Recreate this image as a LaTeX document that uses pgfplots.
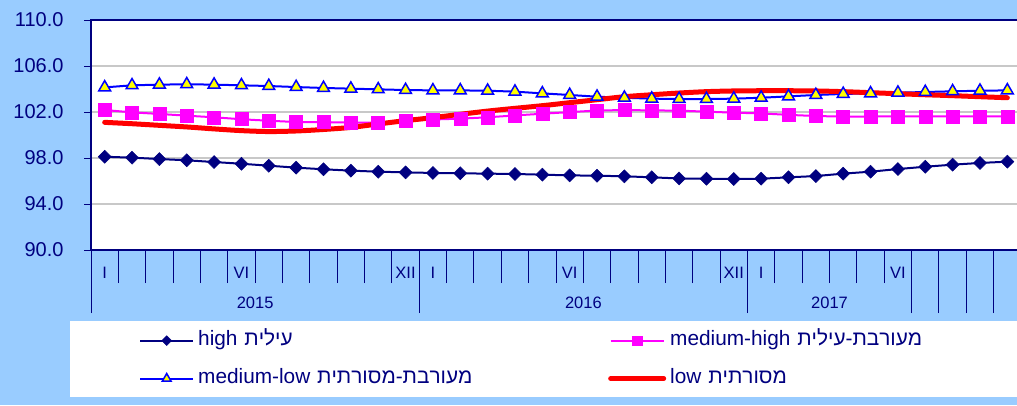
\documentclass[border=0pt]{standalone}
\usepackage{pgfplots}
\pgfplotsset{compat=1.18}
\usepackage{fontspec}
\setmainfont{Liberation Sans}
\TeXXeTstate=1
\definecolor{bg}{HTML}{99CCFF}
\definecolor{navy}{HTML}{000080}
\definecolor{mag}{HTML}{FF00FF}
\definecolor{gridc}{HTML}{C8C8C8}
\definecolor{yel}{HTML}{FFFF00}
\definecolor{blu}{HTML}{0000FF}
\definecolor{red0}{HTML}{FF0000}
\tikzset{
  mlab/.style={font=\fontsize{16.5}{18}\selectfont, text=navy, yshift=-23pt},
  ylab/.style={font=\fontsize{16.5}{18}\selectfont, text=navy, yshift=-53pt}}
\begin{document}
\begin{tikzpicture}
\useasboundingbox (0,0) rectangle (1017pt,405pt);
\clip (0,0) rectangle (1017pt,405pt);
\fill[bg] (0,0) rectangle (1017pt,405pt);
\fill[white] (70pt,8pt) rectangle (1030pt,84pt);
\begin{axis}[
  at={(91pt,155pt)}, anchor=south west,
  scale only axis, width=930pt, height=230pt,
  xmin=-0.5, xmax=33.5, ymin=90, ymax=110,
  clip=false,
  axis background/.style={fill=white},
  axis line style={navy, line width=2pt},
  tick align=outside,
  xtick pos=left, ytick pos=left,
  xtick={-0.5}, xticklabels={},
  minor xtick={0.5,1.5,...,33.5},
  minor tick length=33pt,
  extra x ticks={-0.5,11.5,23.5,29.5,30.5,31.5,32.5,33.5},
  extra x tick labels={},
  extra x tick style={major tick length=63pt},
  major tick length=7pt,
  tick style={navy, line width=1pt},
  ytick={90,94,...,110},
  ymajorgrids,
  major grid style={gridc, line width=1.3pt},
  yticklabel style={font=\fontsize{20}{24}\selectfont, text=navy, xshift=-17pt, /pgf/number format/.cd, fixed, fixed zerofill, precision=1, assume math mode=true},
  legend columns=2,
  legend style={at={(0.0516,-0.341)}, anchor=north west, draw=none, fill=none, inner sep=0pt,
     font=\fontsize{20.8}{24}\selectfont, text=navy, column sep=0pt, row sep=14pt,
     nodes={inner xsep=4pt, inner ysep=2pt, text width=406pt, align=left, text height=15pt, text depth=5pt}},
  legend cell align=left,
  legend image code/.code={\draw[mark repeat=2,mark phase=2,#1, every mark/.append style={scale=0.75}] plot coordinates {(0pt,0pt) (26.5pt,0pt) (53pt,0pt)};},
]
\addplot[navy, line width=2pt, mark=square*, mark size=4.6pt, mark options={rotate=45, fill=navy, draw=navy, line width=0.5pt}] coordinates {
(0,98.11) (1,98.03) (2,97.91) (3,97.80) (4,97.65) (5,97.50) (6,97.33) (7,97.16) (8,97.02) (9,96.90)
(10,96.81) (11,96.75) (12,96.70) (13,96.67) (14,96.64) (15,96.61) (16,96.55) (17,96.49) (18,96.46) (19,96.41)
(20,96.32) (21,96.22) (22,96.20) (23,96.17) (24,96.20) (25,96.32) (26,96.43) (27,96.64) (28,96.81) (29,97.04)
(30,97.24) (31,97.42) (32,97.57) (33,97.68)};
\addlegendentry{high \beginR עילית\endR}
\addplot[mag, line width=2pt, mark=square*, mark size=6.5pt, mark options={fill=mag, draw=mag, line width=0.5pt}] coordinates {
(0,102.17) (1,101.97) (2,101.83) (3,101.68) (4,101.54) (5,101.37) (6,101.24) (7,101.13) (8,101.12) (9,101.08)
(10,101.08) (11,101.22) (12,101.35) (13,101.42) (14,101.54) (15,101.70) (16,101.85) (17,101.99) (18,102.13) (19,102.17)
(20,102.14) (21,102.12) (22,102.03) (23,101.94) (24,101.88) (25,101.75) (26,101.65) (27,101.60) (28,101.61) (29,101.61)
(30,101.62) (31,101.62) (32,101.62) (33,101.62)};
\addlegendentry{medium-high \beginR מעורבת-עילית\endR}
\addplot[blu, line width=2pt, mark=triangle*, mark size=6.8pt, mark options={fill=yel, draw=blu, line width=1.5pt}] coordinates {
(0,104.14) (1,104.32) (2,104.38) (3,104.41) (4,104.38) (5,104.32) (6,104.26) (7,104.17) (8,104.09) (9,104.03)
(10,103.97) (11,103.91) (12,103.88) (13,103.88) (14,103.85) (15,103.77) (16,103.62) (17,103.48) (18,103.33) (19,103.24)
(20,103.16) (21,103.13) (22,103.13) (23,103.16) (24,103.24) (25,103.36) (26,103.48) (27,103.57) (28,103.62) (29,103.68)
(30,103.74) (31,103.80) (32,103.85) (33,103.88)};
\addlegendentry{medium-low \beginR מעורבת-מסורתית\endR}
\addplot[red0, line width=5pt, smooth, line cap=round] coordinates {
(0,101.10) (1,100.98) (2,100.84) (3,100.70) (4,100.53) (5,100.38) (6,100.30) (7,100.35) (8,100.48) (9,100.66)
(10,100.96) (11,101.25) (12,101.51) (13,101.80) (14,102.08) (15,102.32) (16,102.55) (17,102.81) (18,103.07) (19,103.33)
(20,103.50) (21,103.65) (22,103.77) (23,103.83) (24,103.85) (25,103.85) (26,103.83) (27,103.77) (28,103.68) (29,103.59)
(30,103.50) (31,103.42) (32,103.33) (33,103.24)};
\addlegendentry{low \beginR מסורתית\endR}
\node[mlab] at (axis cs:0,90) {I};
\node[mlab] at (axis cs:5,90) {VI};
\node[mlab] at (axis cs:11,90) {XII};
\node[mlab] at (axis cs:12,90) {I};
\node[mlab] at (axis cs:17,90) {VI};
\node[mlab] at (axis cs:23,90) {XII};
\node[mlab] at (axis cs:24,90) {I};
\node[mlab] at (axis cs:29,90) {VI};
\node[ylab] at (axis cs:5.5,90) {2015};
\node[ylab] at (axis cs:17.5,90) {2016};
\node[ylab] at (axis cs:26.5,90) {2017};
\end{axis}
\end{tikzpicture}
\end{document}
